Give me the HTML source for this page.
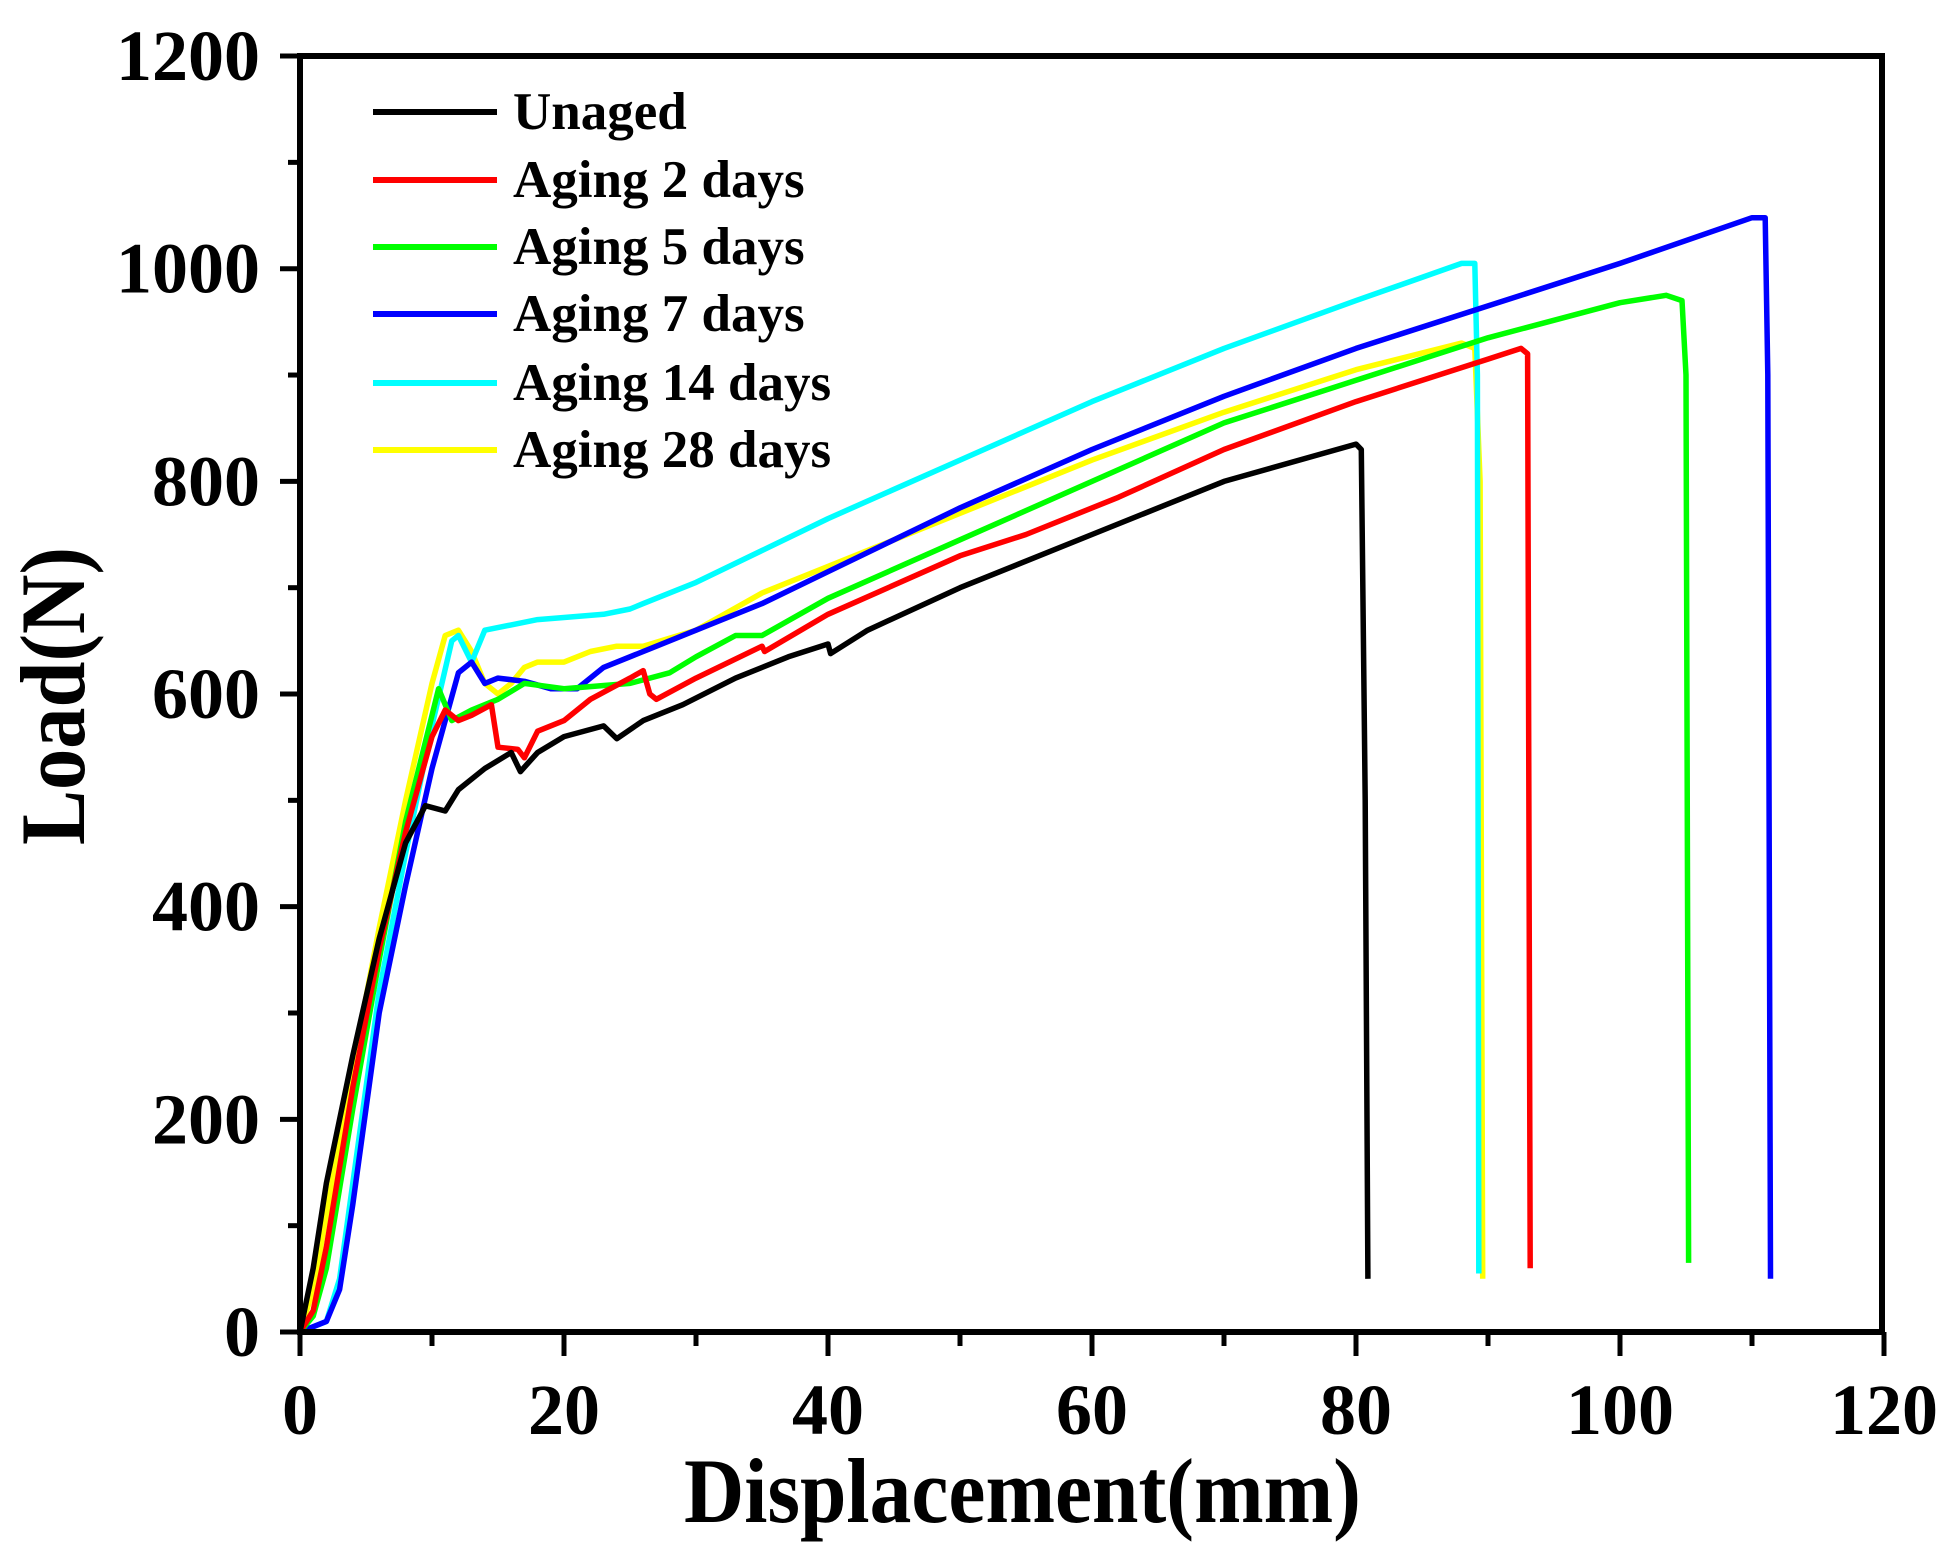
<!DOCTYPE html>
<html><head><meta charset="utf-8"><style>
html,body{margin:0;padding:0;background:#fff;}
svg{display:block;}
text{font-family:"Liberation Serif",serif;font-weight:bold;fill:#000;}
</style></head><body>
<svg id="s" width="1949" height="1558" viewBox="0 0 1949 1558" xmlns="http://www.w3.org/2000/svg">
<g id="curves" fill="none" stroke-width="5.5" stroke-linejoin="round"></g>
<rect x="300" y="56" width="1582" height="1276" fill="none" stroke="#000" stroke-width="6"/>
<g id="ticks" stroke="#000" stroke-width="5"></g>
<g id="labels" font-size="72"></g>
<g font-size="53">
<line x1="373" y1="112" x2="497" y2="112" stroke="#000" stroke-width="6"/><text x="513" y="129">Unaged</text>
<line x1="373" y1="180" x2="497" y2="180" stroke="#ff0000" stroke-width="6"/><text x="513" y="197">Aging 2 days</text>
<line x1="373" y1="247" x2="497" y2="247" stroke="#00ff00" stroke-width="6"/><text x="513" y="264">Aging 5 days</text>
<line x1="373" y1="314" x2="497" y2="314" stroke="#0000ff" stroke-width="6"/><text x="513" y="331">Aging 7 days</text>
<line x1="373" y1="383" x2="497" y2="383" stroke="#00ffff" stroke-width="6"/><text x="513" y="400">Aging 14 days</text>
<line x1="373" y1="450" x2="497" y2="450" stroke="#ffff00" stroke-width="6"/><text x="513" y="467">Aging 28 days</text>
</g>
<text x="684" y="1522" font-size="92" textLength="677" lengthAdjust="spacingAndGlyphs">Displacement(mm)</text>
<text transform="translate(84,696) rotate(-90)" text-anchor="middle" font-size="92" textLength="298" lengthAdjust="spacingAndGlyphs">Load(N)</text>
</svg>
<script>
var X=function(x){return 300+13.2*x}, Y=function(n){return 1332-1.0633*n};
var ns="http://www.w3.org/2000/svg";
var data=[
["#ffff00",[[0,0],[1,40],[2,110],[4,250],[6,380],[8,500],[10,610],[11,655],[12,660],[13,640],[14,610],[15,600],[16,610],[17,625],[18,630],[20,630],[22,640],[24,645],[26,645],[30,660],[35,695],[40,720],[50,770],[60,820],[70,865],[80,905],[88,930],[89,925],[89.4,800],[89.6,50]]],
["#00ffff",[[0,0],[2,10],[3,50],[4,140],[5,230],[6,320],[8,450],[10,570],[11.5,650],[12,655],[13,630],[14,660],[16,665],[18,670],[20,672],[23,675],[25,680],[26,685],[30,705],[35,735],[40,765],[50,820],[60,875],[70,925],[80,970],[88,1005],[89,1005],[89.2,900],[89.3,55]]],
["#0000ff",[[0,0],[2,10],[3,40],[4,120],[5,210],[6,300],[8,420],[10,530],[12,620],[13,630],[14,610],[15,615],[17,612],[19,605],[21,605],[23,625],[27,645],[30,660],[35,685],[40,715],[50,775],[60,830],[70,880],[80,925],[90,965],[100,1005],[110,1048],[111,1048],[111.2,900],[111.4,50]]],
["#00ff00",[[0,0],[1,15],[2,60],[4,210],[6,350],[8,480],[10,580],[10.5,605],[11.5,575],[13,585],[15,595],[17,610],[20,605],[25,610],[28,620],[30,635],[33,655],[35,655],[40,690],[50,745],[60,800],[70,855],[80,895],[90,935],[100,968],[103.5,975],[104.7,970],[105,900],[105.2,65]]],
["#ff0000",[[0,0],[1,20],[2,80],[4,230],[6,360],[8,470],[10,560],[11,585],[12,575],[13,580],[14.5,590],[15,550],[16.5,548],[17,540],[18,565],[20,575],[22,595],[25,615],[26,622],[26.5,600],[27,595],[30,615],[35,645],[35.2,640],[40,675],[50,730],[55,750],[62,785],[70,830],[80,875],[90,915],[92.5,925],[93,920],[93.2,60]]],
["#000000",[[0,0],[1,60],[2,140],[4,260],[6,370],[8,460],[9.5,495],[11,490],[12,510],[14,530],[16,545],[16.7,527],[18,545],[20,560],[23,570],[24,558],[26,575],[29,590],[33,615],[37,635],[40,647],[40.2,638],[43,660],[50,700],[60,750],[70,800],[80,835],[80.4,830],[80.7,500],[80.9,50]]]
];
var g=document.getElementById("curves");
data.forEach(function(d){var p=document.createElementNS(ns,"polyline");
p.setAttribute("points",d[1].map(function(q){return X(q[0]).toFixed(1)+","+Y(q[1]).toFixed(1)}).join(" "));
p.setAttribute("stroke",d[0]);g.appendChild(p);});
var t=document.getElementById("ticks"),L=document.getElementById("labels");
function line(a,b,c,d){var l=document.createElementNS(ns,"line");l.setAttribute("x1",a);l.setAttribute("y1",b);l.setAttribute("x2",c);l.setAttribute("y2",d);t.appendChild(l);}
function txt(x,y,s,anc){var e=document.createElementNS(ns,"text");e.setAttribute("x",x);e.setAttribute("y",y);e.setAttribute("text-anchor",anc);e.textContent=s;L.appendChild(e);}
for(var v=0;v<=1200;v+=100){var y=Y(v);line(300,y,v%200==0?280:288,y);if(v%200==0)txt(260,y+24,String(v),"end");}
for(var x=0;x<=120;x+=10){var xx=X(x);line(xx,1332,xx,x%20==0?1356:1346);if(x%20==0)txt(xx,1434,String(x),"middle");}
</script>
</body></html>
